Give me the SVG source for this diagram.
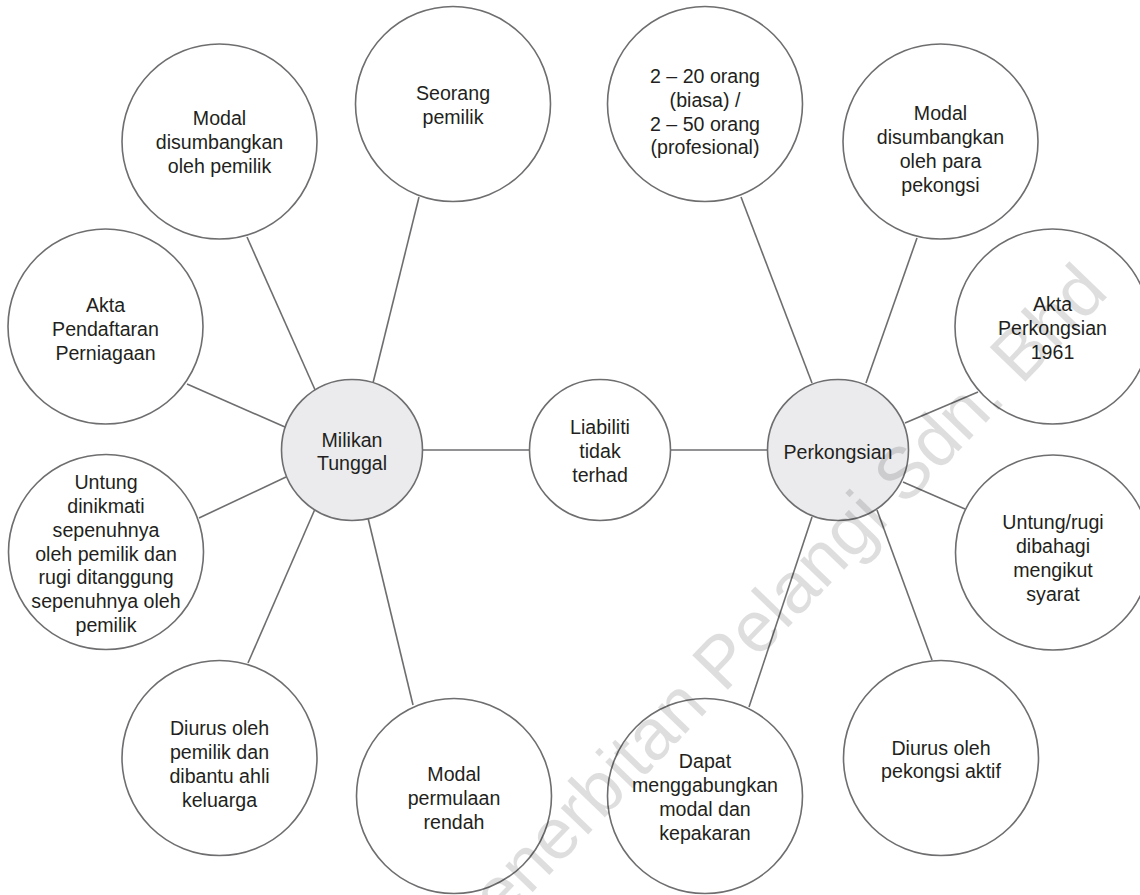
<svg xmlns="http://www.w3.org/2000/svg" width="1140" height="895" viewBox="0 0 1140 895">
<style>
.c{fill:#ffffff;stroke:#6e6e70;stroke-width:1.6}
.m{fill:#ebebed;stroke:#6e6e70;stroke-width:1.6}
.t{font-family:"Liberation Sans",Arial,Helvetica,sans-serif;font-size:19.6px;fill:#231f20;text-anchor:middle}
#connectors line{stroke:#6e6e70;stroke-width:1.6}
.wm{font-family:"Liberation Sans",Arial,sans-serif;font-size:72px;fill:#000;fill-opacity:0.13}
</style>
<rect width="1140" height="895" fill="#ffffff"/>
<g id="connectors">
<line x1="247" y1="237" x2="316" y2="392"/>
<line x1="419" y1="197" x2="373" y2="383"/>
<line x1="187" y1="384" x2="285" y2="427"/>
<line x1="199" y1="518" x2="286" y2="477"/>
<line x1="248" y1="663" x2="315" y2="509"/>
<line x1="413" y1="705" x2="368" y2="518"/>
<line x1="422" y1="450" x2="529" y2="450"/>
<line x1="671" y1="450" x2="768" y2="450"/>
<line x1="741" y1="197" x2="812" y2="383"/>
<line x1="917" y1="238" x2="866" y2="383"/>
<line x1="978" y1="392" x2="905" y2="423"/>
<line x1="965" y1="509" x2="903" y2="482"/>
<line x1="932" y1="660" x2="877" y2="510"/>
<line x1="749" y1="707" x2="812" y2="517"/>
</g>
<g id="seorang-pemilik">
<circle class="c" cx="453" cy="104" r="97.5"/>
<text class="t"><tspan x="453" y="100.1">Seorang</tspan><tspan x="453" y="123.9">pemilik</tspan></text>
</g>
<g id="modal-pemilik">
<circle class="c" cx="219.5" cy="141.5" r="97.5"/>
<text class="t"><tspan x="219.5" y="125.2">Modal</tspan><tspan x="219.5" y="149">disumbangkan</tspan><tspan x="219.5" y="172.8">oleh pemilik</tspan></text>
</g>
<g id="akta-pendaftaran">
<circle class="c" cx="105.5" cy="326.5" r="97.5"/>
<text class="t"><tspan x="105.5" y="312.2">Akta</tspan><tspan x="105.5" y="336">Pendaftaran</tspan><tspan x="105.5" y="359.8">Perniagaan</tspan></text>
</g>
<g id="untung-dinikmati">
<circle class="c" cx="106" cy="552" r="97.5"/>
<text class="t"><tspan x="106" y="489.1">Untung</tspan><tspan x="106" y="512.9">dinikmati</tspan><tspan x="106" y="536.7">sepenuhnya</tspan><tspan x="106" y="560.5">oleh pemilik dan</tspan><tspan x="106" y="584.3">rugi ditanggung</tspan><tspan x="106" y="608.1">sepenuhnya oleh</tspan><tspan x="106" y="631.9">pemilik</tspan></text>
</g>
<g id="diurus-pemilik">
<circle class="c" cx="219.5" cy="758" r="97.5"/>
<text class="t"><tspan x="219.5" y="735.3">Diurus oleh</tspan><tspan x="219.5" y="759.1">pemilik dan</tspan><tspan x="219.5" y="782.9">dibantu ahli</tspan><tspan x="219.5" y="806.7">keluarga</tspan></text>
</g>
<g id="modal-permulaan">
<circle class="c" cx="454" cy="796" r="97.5"/>
<text class="t"><tspan x="454" y="781.2">Modal</tspan><tspan x="454" y="805">permulaan</tspan><tspan x="454" y="828.8">rendah</tspan></text>
</g>
<g id="milikan-tunggal">
<circle class="m" cx="352" cy="450" r="70.5"/>
<text class="t"><tspan x="352" y="446.6">Milikan</tspan><tspan x="352" y="470.4">Tunggal</tspan></text>
</g>
<g id="liabiliti">
<circle class="c" cx="600" cy="450" r="70.5"/>
<text class="t"><tspan x="600" y="434.2">Liabiliti</tspan><tspan x="600" y="458">tidak</tspan><tspan x="600" y="481.8">terhad</tspan></text>
</g>
<g id="perkongsian">
<circle class="m" cx="838" cy="450" r="70.5"/>
<text class="t" x="838" y="459">Perkongsian</text>
</g>
<g id="bilangan-pekongsi">
<circle class="c" cx="705" cy="104" r="97.5"/>
<text class="t"><tspan x="705" y="83.05">2 – 20 orang</tspan><tspan x="705" y="106.85">(biasa) /</tspan><tspan x="705" y="130.65">2 – 50 orang</tspan><tspan x="705" y="154.45">(profesional)</tspan></text>
</g>
<g id="modal-pekongsi">
<circle class="c" cx="940.5" cy="141.5" r="97.5"/>
<text class="t"><tspan x="940.5" y="120.3">Modal</tspan><tspan x="940.5" y="144.1">disumbangkan</tspan><tspan x="940.5" y="167.9">oleh para</tspan><tspan x="940.5" y="191.7">pekongsi</tspan></text>
</g>
<g id="akta-perkongsian">
<circle class="c" cx="1052.5" cy="326.5" r="97.5"/>
<text class="t"><tspan x="1052.5" y="311.2">Akta</tspan><tspan x="1052.5" y="335">Perkongsian</tspan><tspan x="1052.5" y="358.8">1961</tspan></text>
</g>
<g id="untung-rugi">
<circle class="c" cx="1053" cy="552.5" r="97.5"/>
<text class="t"><tspan x="1053" y="529.3">Untung/rugi</tspan><tspan x="1053" y="553.1">dibahagi</tspan><tspan x="1053" y="576.9">mengikut</tspan><tspan x="1053" y="600.7">syarat</tspan></text>
</g>
<g id="diurus-pekongsi">
<circle class="c" cx="941" cy="758" r="97.5"/>
<text class="t"><tspan x="941" y="754.6">Diurus oleh</tspan><tspan x="941" y="778.4">pekongsi aktif</tspan></text>
</g>
<g id="dapat-menggabungkan">
<circle class="c" cx="705" cy="796" r="97.5"/>
<text class="t"><tspan x="705" y="768.3">Dapat</tspan><tspan x="705" y="792.1">menggabungkan</tspan><tspan x="705" y="815.9">modal dan</tspan><tspan x="705" y="839.7">kepakaran</tspan></text>
</g>
<text class="wm" transform="translate(468,959) rotate(-46)">Penerbitan Pelangi Sdn. Bhd</text>
</svg>
